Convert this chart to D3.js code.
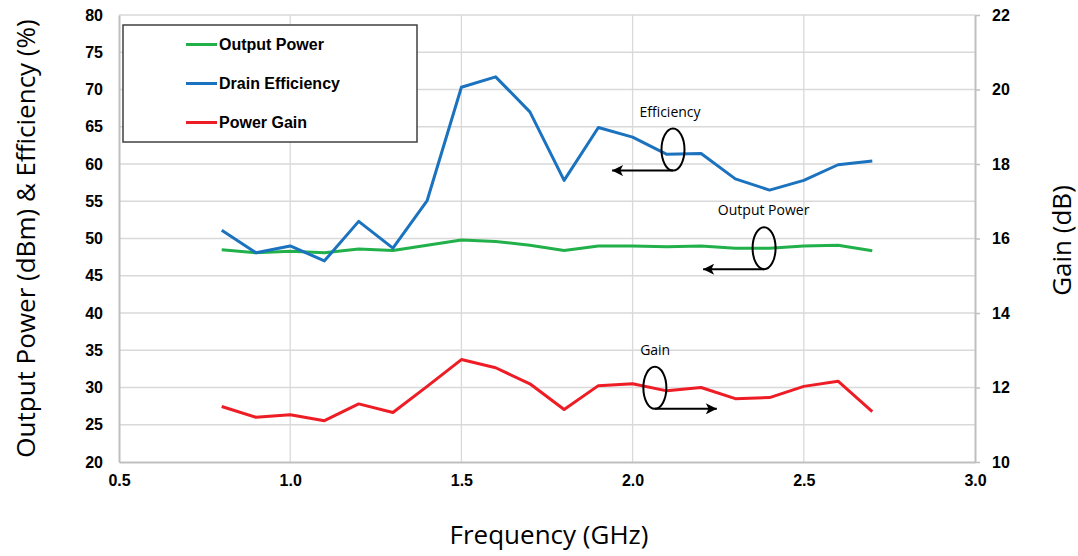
<!DOCTYPE html>
<html>
<head>
<meta charset="utf-8">
<script src="https://cdn.jsdelivr.net/npm/d3@7"></script>
<style>
  html, body { margin: 0; padding: 0; background: #fff; }
  svg { display: block; }
</style>
</head>
<body>
<div id="chart"></div>
<script>
// Frequency sweep data (GHz)
const frequency = [0.8, 0.9, 1.0, 1.1, 1.2, 1.3, 1.4, 1.5, 1.6, 1.7, 1.8, 1.9, 2.0, 2.1, 2.2, 2.3, 2.4, 2.5, 2.6, 2.7];
const outputPower = [48.5, 48.1, 48.3, 48.1, 48.6, 48.4, 49.1, 49.8, 49.6, 49.1, 48.4, 49.0, 49.0, 48.9, 49.0, 48.7, 48.7, 49.0, 49.1, 48.35];
const drainEfficiency = [51.1, 48.1, 49.0, 47.0, 52.3, 48.7, 55.1, 70.3, 71.7, 67.0, 57.8, 64.9, 63.6, 61.3, 61.4, 58.0, 56.5, 57.8, 59.9, 60.4];
const powerGain = [11.49, 11.2, 11.27, 11.11, 11.56, 11.33, 12.03, 12.75, 12.53, 12.1, 11.41, 12.05, 12.1, 11.91, 12.0, 11.7, 11.73, 12.03, 12.17, 11.35];

const xTicks = [0.5, 1.0, 1.5, 2.0, 2.5, 3.0];
const leftTicks = [20, 25, 30, 35, 40, 45, 50, 55, 60, 65, 70, 75, 80];
const rightTicks = [10, 12, 14, 16, 18, 20, 22];

const legendItems = [
    { label: 'Output Power', color: '#22b04b' },
    { label: 'Drain Efficiency', color: '#1b72be' },
    { label: 'Power Gain', color: '#ee1c25' }
];

// annotation callouts, placed in data units
const callouts = [
    { text: 'Efficiency', tx: 2.02, ty: 66.35, cx: 2.118, cy: 61.93, tip: 1.94, axis: 'left' },
    { text: 'Output Power', tx: 2.249, ty: 53.1, cx: 2.384, cy: 48.7, tip: 2.206, axis: 'left' },
    { text: 'Gain', tx: 2.022, ty: 12.87, cx: 2.065, cy: 11.99, tip: 2.246, axis: 'right' }
];

const width = 1078, height = 556;
const plot = { left: 119, right: 975, top: 15, bottom: 462 };

const svg = d3.select('#chart').append('svg')
    .attr('width', width)
    .attr('height', height);

const x = d3.scaleLinear().domain([0.5, 3.0]).range([plot.left, plot.right]);
const yL = d3.scaleLinear().domain([20, 80]).range([plot.bottom, plot.top]);
const yR = d3.scaleLinear().domain([10, 22]).range([plot.bottom, plot.top]);

// grid
const grid = svg.append('g');
grid.selectAll('line.h')
    .data(leftTicks.slice(1))
    .enter().append('line')
    .attr('x1', plot.left).attr('x2', plot.right)
    .attr('y1', d => yL(d)).attr('y2', d => yL(d))
    .attr('stroke', '#d9d9d9')
    .attr('stroke-width', 1.3);
grid.selectAll('line.v')
    .data(xTicks.slice(1, -1))
    .enter().append('line')
    .attr('x1', d => x(d)).attr('x2', d => x(d))
    .attr('y1', plot.top).attr('y2', plot.bottom)
    .attr('stroke', '#d9d9d9')
    .attr('stroke-width', 1.3);

// axes
const tickFont = g => g.selectAll('text')
    .style('font-family', '"Liberation Sans", Arial, sans-serif')
    .style('font-weight', 'bold')
    .style('font-size', '16px')
    .attr('fill', '#000');

const xAxis = svg.append('g')
    .attr('transform', `translate(0,${plot.bottom})`)
    .call(d3.axisBottom(x).tickValues(xTicks).tickFormat(d3.format('.1f')).tickSize(0).tickPadding(13))
    .call(tickFont);
xAxis.select('.domain').attr('stroke', '#bfbfbf').attr('stroke-width', 2);

const leftAxis = svg.append('g')
    .attr('transform', `translate(${plot.left},0)`)
    .call(d3.axisLeft(yL).tickValues(leftTicks).tickSize(0).tickPadding(16))
    .call(tickFont);
leftAxis.select('.domain').attr('stroke', '#bfbfbf').attr('stroke-width', 2);

const rightAxis = svg.append('g')
    .attr('transform', `translate(${plot.right},0)`)
    .call(d3.axisRight(yR).tickValues(rightTicks).tickSizeInner(5).tickSizeOuter(0).tickPadding(12))
    .call(tickFont);
rightAxis.select('.domain').attr('stroke', '#bfbfbf').attr('stroke-width', 2);
rightAxis.selectAll('.tick line').attr('stroke', '#bfbfbf').attr('stroke-width', 1.5);

// axis titles
const titleStyle = sel => sel
    .style('font-family', '"Open Sans", sans-serif')
    .style('font-size', '26px')
    .attr('fill', '#000')
    .attr('text-anchor', 'middle');

svg.append('text')
    .attr('transform', `translate(35,${(plot.top + plot.bottom) / 2}) rotate(-90)`)
    .text('Output Power (dBm) & Efficiency (%)')
    .call(titleStyle);

svg.append('text')
    .attr('transform', `translate(1071,${(plot.top + plot.bottom) / 2 + 2}) rotate(-90)`)
    .text('Gain (dB)')
    .call(titleStyle);

svg.append('text')
    .attr('x', (plot.left + plot.right) / 2 + 2)
    .attr('y', 544)
    .text('Frequency (GHz)')
    .call(titleStyle);

// series
const series = [
    { values: outputPower, scale: yL, color: legendItems[0].color },
    { values: drainEfficiency, scale: yL, color: legendItems[1].color },
    { values: powerGain, scale: yR, color: legendItems[2].color }
];

series.forEach(s => {
    const line = d3.line()
        .x((d, i) => x(frequency[i]))
        .y(d => s.scale(d));
    svg.append('path')
        .datum(s.values)
        .attr('d', line)
        .attr('fill', 'none')
        .attr('stroke', s.color)
        .attr('stroke-width', 3)
        .attr('stroke-linejoin', 'round');
});

// arrow marker
svg.append('defs').append('marker')
    .attr('id', 'arrowhead')
    .attr('viewBox', '0 -5 10 10')
    .attr('refX', 10)
    .attr('refY', 0)
    .attr('orient', 'auto')
    .attr('markerUnits', 'userSpaceOnUse')
    .attr('markerWidth', 17)
    .attr('markerHeight', 11)
    .append('path')
    .attr('d', 'M0,-5 L10,0 L0,5 L2.5,0 Z')
    .attr('fill', '#000');

// callouts
callouts.forEach(c => {
    const ys = c.axis === 'left' ? yL : yR;
    const cx = x(c.cx), cy = ys(c.cy);
    const ry = 21;
    svg.append('line')
        .attr('x1', cx).attr('y1', cy + ry)
        .attr('x2', x(c.tip)).attr('y2', cy + ry)
        .attr('stroke', '#000')
        .attr('stroke-width', 2)
        .attr('marker-end', 'url(#arrowhead)');
    svg.append('ellipse')
        .attr('cx', cx).attr('cy', cy)
        .attr('rx', 11.5).attr('ry', ry)
        .attr('fill', 'none')
        .attr('stroke', '#000')
        .attr('stroke-width', 2);
    svg.append('text')
        .attr('x', x(c.tx))
        .attr('y', ys(c.ty))
        .text(c.text)
        .style('font-family', '"Open Sans", sans-serif')
        .style('font-size', '14px')
        .attr('fill', '#000');
});

// legend
const legend = svg.append('g');
legend.append('rect')
    .attr('x', 123).attr('y', 25)
    .attr('width', 294).attr('height', 117)
    .attr('fill', '#fff')
    .attr('stroke', '#404040')
    .attr('stroke-width', 1.5);

const legendRow = legend.selectAll('g.item')
    .data(legendItems)
    .enter().append('g')
    .attr('transform', (d, i) => `translate(186,${44.5 + i * 39})`);
legendRow.append('line')
    .attr('x1', 0).attr('x2', 31)
    .attr('stroke', d => d.color)
    .attr('stroke-width', 3);
legendRow.append('text')
    .attr('x', 33)
    .attr('dy', '0.35em')
    .text(d => d.label)
    .style('font-family', '"Liberation Sans", Arial, sans-serif')
    .style('font-weight', 'bold')
    .style('font-size', '16px')
    .attr('fill', '#000');
</script>
</body>
</html>
